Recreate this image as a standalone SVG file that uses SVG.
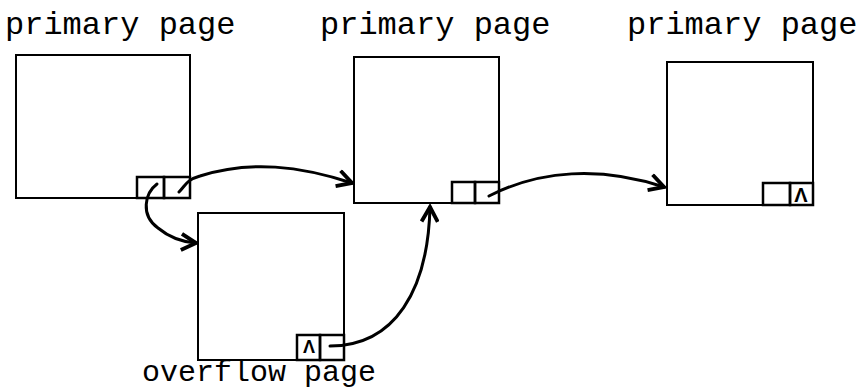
<svg xmlns="http://www.w3.org/2000/svg" width="860" height="391" viewBox="0 0 860 391">
<style>
.box{fill:#fff;stroke:#000;stroke-width:2}
.slot{fill:none;stroke:#000;stroke-width:2.5}
.lbl{font-family:"Liberation Mono","Courier New",monospace;font-size:32px;fill:#000}
.nul{font-family:"Liberation Sans",Arial,sans-serif;font-size:20px;font-weight:bold;fill:#000;text-anchor:middle}
.arr{fill:none;stroke:#000;stroke-width:3;stroke-linecap:round;marker-end:url(#ah)}
</style>
<defs>
<marker id="ah" viewBox="0 0 12 12" refX="10" refY="6" markerWidth="6.5" markerHeight="6.5" orient="auto" markerUnits="strokeWidth">
<path d="M1,1 L10,6 L1,11" fill="none" stroke="#000" stroke-width="2.4" stroke-linejoin="miter"/>
</marker>
</defs>
<g id="page1">
<rect class="box" x="16" y="55" width="174" height="143"/>
<rect class="slot" x="137" y="177" width="27" height="21"/>
<rect class="slot" x="164" y="177" width="26" height="21"/>
<text class="lbl" x="5" y="34">primary page</text>
</g>
<g id="page2">
<rect class="box" x="354" y="57" width="145" height="146"/>
<rect class="slot" x="452" y="182" width="23" height="21"/>
<rect class="slot" x="475" y="182" width="24" height="21"/>
<text class="lbl" x="320" y="34">primary page</text>
</g>
<g id="page3">
<rect class="box" x="667" y="62" width="146" height="143"/>
<rect class="slot" x="763" y="183" width="27" height="22" stroke-width="1.5"/>
<rect class="slot" x="790" y="183" width="23" height="22"/>
<text class="nul" x="801" y="202">Λ</text>
<text class="lbl" x="627" y="34">primary page</text>
</g>
<g id="overflow">
<rect class="box" x="198" y="213" width="146" height="147"/>
<rect class="slot" x="297" y="335" width="23" height="25"/>
<rect class="slot" x="320" y="335" width="24" height="25"/>
<text class="nul" x="309" y="353" style="font-size:18px">Λ</text>
<text class="lbl" x="142" y="381" style="font-size:30px">overflow page</text>
</g>
<g id="connectors">
<path class="arr" d="M179,192 C186,185 186,180 200,176 C250,160 300,166 352,183"/>
<path class="arr" d="M157,184 C145,193 140,215 158,228 C170,238 182,242 196,243"/>
<path class="arr" d="M330,346 C395,346 428,290 430,207"/>
<path class="arr" d="M489,196 C540,170 600,166 664,187"/>
</g>
</svg>
